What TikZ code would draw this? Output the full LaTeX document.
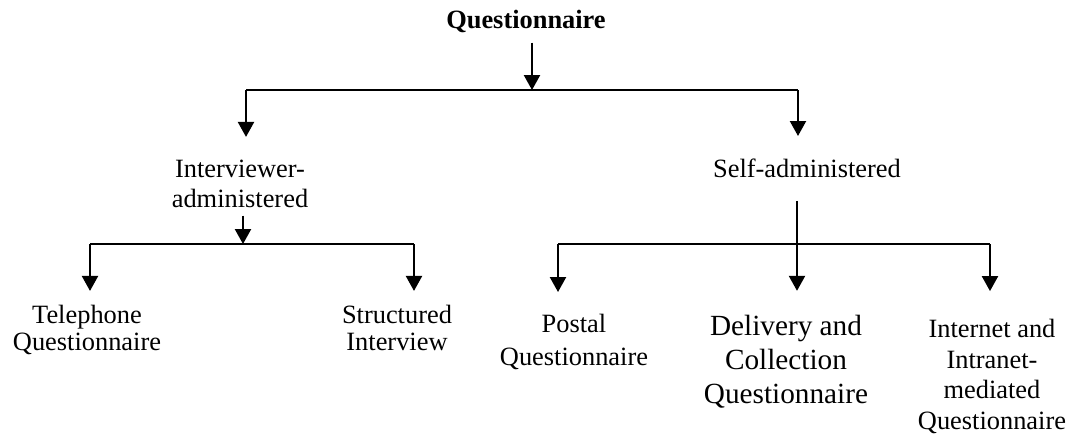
\documentclass[tikz,border=0pt]{standalone}
\usepackage{fontspec}
\setmainfont{Liberation Serif}
\usetikzlibrary{arrows.meta,positioning}

\begin{document}
\begin{tikzpicture}[x=0.4545pt, y=-0.4545pt]
\tikzstyle{txt} = [inner sep=0pt, align=center, anchor=north]
\tikzstyle{arrow} = [line width=0.9pt, -{Triangle[width=7.3pt,length=6.8pt]}]
\tikzstyle{bus} = [line width=0.9pt]

\useasboundingbox (0,0) rectangle (1070,438);

% top level
\node[inner sep=0pt, anchor=base, font=\fontsize{12}{13.8}\selectfont\bfseries] (quest) at (526,28) {Questionnaire};
\coordinate (bus-top) at (532,90);
\coordinate (bus-top-l) at (246,90);
\coordinate (bus-top-r) at (798,90);

\node[txt, font=\fontsize{12}{13.6}\selectfont] (interviewer) at (240,160) {Interviewer-\\administered};
\node[inner sep=0pt, anchor=base, font=\fontsize{12}{13.8}\selectfont] (self) at (807,177) {Self-administered};

\draw[arrow, shorten <=4.5pt] (quest.south -| bus-top) -- (bus-top);
\draw[bus] (bus-top-l) -- (bus-top-r);
\draw[arrow, shorten >=10.5pt] (bus-top-l) -- (bus-top-l |- interviewer.north);
\draw[arrow, shorten >=10pt] (bus-top-r) -- (bus-top-r |- self.north);

% interviewer-administered branch
\coordinate (bus-iv) at (243,244);
\coordinate (bus-iv-l) at (90,244);
\coordinate (bus-iv-r) at (414,244);

\node[txt, font=\fontsize{12}{12.3}\selectfont] (phone) at (87,305) {Telephone\\Questionnaire};
\node[txt, font=\fontsize{12}{12.3}\selectfont] (structured) at (397,305) {Structured\\Interview};

\draw[arrow, shorten <=3.2pt] (interviewer.south -| bus-iv) -- (bus-iv);
\draw[bus] (bus-iv-l) -- (bus-iv-r);
\draw[arrow, shorten >=6.4pt] (bus-iv-l) -- (bus-iv-l |- phone.north);
\draw[arrow, shorten >=6.4pt] (bus-iv-r) -- (bus-iv-r |- structured.north);

% self-administered branch
\coordinate (bus-sa) at (797,244);
\coordinate (bus-sa-l) at (558,244);
\coordinate (bus-sa-r) at (990,244);

\node[txt, font=\fontsize{12}{15}\selectfont] (postal) at (574,314) {Postal\\Questionnaire};
\node[txt, font=\fontsize{13.3}{15.5}\selectfont] (delivery) at (786,315) {Delivery and\\Collection\\Questionnaire};
\node[txt, font=\fontsize{12}{13.9}\selectfont] (internet) at (992,319) {Internet and\\Intranet-\\mediated\\Questionnaire};

\draw[arrow, shorten <=10.5pt, shorten >=11pt] (self.south -| bus-sa) -- (bus-sa |- delivery.north);
\draw[bus] (bus-sa-l) -- (bus-sa-r);
\draw[arrow, shorten >=10pt] (bus-sa-l) -- (bus-sa-l |- postal.north);
\draw[arrow, shorten >=12.7pt] (bus-sa-r) -- (bus-sa-r |- internet.north);
\end{tikzpicture}
\end{document}
